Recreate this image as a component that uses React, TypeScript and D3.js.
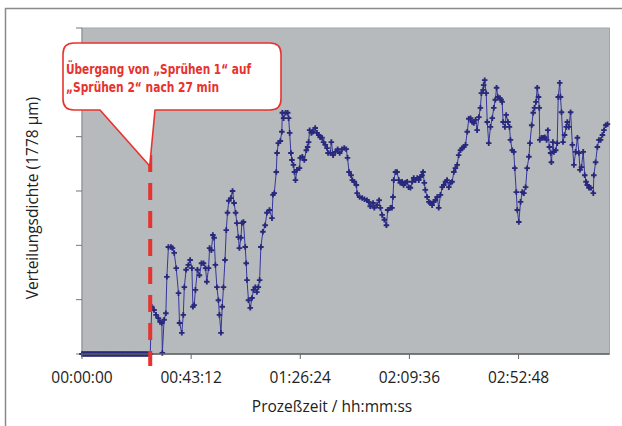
import React from "react";
import * as d3 from "d3";

// Process time in minutes; distribution density in axis units (one unit per gridline step)
const preSwitchMin = [
  0, 0.5, 1, 1.5, 2, 2.5, 3, 3.5, 4, 4.5, 5, 5.5, 6, 6.5, 7, 7.5, 8, 8.5, 9, 9.5,
  10, 10.5, 11, 11.5, 12, 12.5, 13, 13.5, 14, 14.5, 15, 15.5, 16, 16.5, 17, 17.5, 18, 18.5, 19, 19.5,
  20, 20.5, 21, 21.5, 22, 22.5, 23, 23.5, 24, 24.5, 25, 25.5, 26, 26.5, 27,
];

const sprayMin = [
  27.6, 28.5, 29.3, 30.2, 30.9, 31.6, 31.8, 32.5, 33.2, 33.6, 34.2, 35.2, 35.8, 36.5, 37.3, 38.2, 38.6, 39.5, 40.1, 40.5,
  41.2, 42.1, 42.8, 43.5, 43.9, 44.4, 44.9, 45.7, 46.5, 47.3, 48.1, 48.9, 49.4, 50.1, 50.5, 51.2, 51.8, 52.3, 52.8, 53.4,
  54.0, 54.4, 55.0, 55.5, 56.0, 56.6, 57.1, 57.6, 58.1, 58.9, 59.6, 60.2, 60.8, 61.3, 61.9, 62.3, 62.9, 63.3, 63.9, 64.6,
  65.0, 65.3, 65.9, 66.6, 67.3, 67.9, 68.6, 69.2, 69.8, 70.3, 70.8, 71.6, 72.5, 73.2, 74.2, 75.2, 75.6, 76.1, 76.9, 77.2,
  77.7, 78.5, 79.1, 79.3, 79.8, 80.6, 81.4, 81.8, 82.2, 82.7, 83.1, 83.7, 84.1, 84.5, 85.1, 86.1, 86.4, 87.2, 88.0, 88.8,
  89.3, 89.7, 90.1, 90.8, 91.4, 92.3, 93.0, 93.7, 94.3, 95.0, 95.6, 96.3, 97.0, 97.4, 98.3, 98.7, 99.4, 100.3, 101.2, 102.0,
  102.9, 103.8, 104.6, 105.1, 105.7, 106.5, 107.0, 107.8, 108.6, 108.9, 109.9, 110.9, 111.8, 112.8, 113.5, 114.1, 115.2, 115.7, 116.8, 117.6,
  118.1, 118.8, 119.7, 120.5, 121.0, 122.1, 122.7, 123.1, 123.4, 124.1, 124.7, 125.4, 126.0, 126.7, 127.3, 128.0, 128.7, 129.3, 130.0, 130.7,
  131.3, 132.0, 132.7, 133.3, 134.0, 134.6, 135.0, 135.5, 135.9, 136.6, 137.3, 137.9, 138.6, 139.2, 139.9, 140.6, 141.2, 141.9, 142.6, 143.2,
  143.9, 144.5, 145.2, 145.9, 146.5, 147.2, 147.8, 148.5, 149.1, 149.8, 150.5, 151.1, 151.8, 152.5, 153.1, 153.8, 154.5, 155.1, 155.8, 156.4,
  157.1, 157.7, 158.1, 158.8, 159.0, 159.4, 160.0, 160.4, 161.0, 161.7, 162.4, 163.0, 163.6, 164.1, 164.6, 165.4, 165.9, 166.3, 166.7, 167.4,
  167.9, 168.6, 169.2, 169.6, 170.3, 170.9, 171.3, 171.9, 172.3, 172.9, 173.6, 174.3, 174.9, 175.6, 176.2, 176.9, 177.3, 178.0, 178.6, 179.1,
  179.7, 180.2, 180.7, 181.0, 181.2, 181.9, 182.6, 183.2, 183.9, 184.4, 185.0, 185.5, 185.8, 186.4, 186.8, 187.5, 188.1, 188.5, 189.1, 189.4,
  189.8, 190.4, 191.0, 191.7, 192.1, 192.7, 193.4, 194.1, 194.7, 195.4, 196.1, 196.7, 197.1, 197.7, 198.4, 199.0, 199.5, 200.0, 200.7, 201.3,
  202.4, 202.6, 203.3, 204.0, 204.6, 205.3, 206.0, 206.6, 207.3, 208.0,
];

const sprayDensity = [
  0.87, 0.81, 0.72, 0.66, 0.59, 0.57, 0.02, 0.63, 0.75, 1.42, 1.97, 1.97, 1.95, 1.86, 1.58, 1.12, 0.57, 0.39, 0.72, 1.23,
  1.55, 1.64, 1.73, 1.58, 0.87, 0.90, 1.18, 1.55, 1.45, 1.67, 1.67, 1.58, 1.33, 1.58, 1.95, 1.91, 2.19, 2.14, 1.64, 1.23,
  0.99, 0.72, 0.39, 0.87, 1.23, 1.73, 2.28, 2.60, 2.82, 2.87, 3.00, 2.78, 2.60, 2.41, 2.15, 1.95, 2.14, 2.41, 2.43, 1.97,
  1.67, 1.36, 0.99, 0.85, 1.03, 1.18, 1.23, 1.14, 1.23, 1.36, 1.97, 2.25, 2.37, 2.60, 2.65, 2.50, 2.93, 2.96, 3.35, 3.70,
  3.88, 3.92, 4.09, 4.44, 4.34, 4.44, 4.44, 4.34, 4.07, 3.70, 3.57, 3.48, 3.35, 3.20, 3.39, 3.42, 3.61, 3.63, 3.57, 3.75,
  3.81, 3.90, 4.12, 4.07, 4.09, 4.16, 4.07, 4.03, 3.99, 3.98, 3.90, 3.85, 3.79, 3.70, 3.70, 3.90, 3.66, 3.72, 3.77, 3.70,
  3.77, 3.79, 3.77, 3.61, 3.35, 3.29, 3.20, 3.17, 3.11, 2.96, 2.89, 2.87, 2.85, 2.83, 2.80, 2.72, 2.78, 2.69, 2.74, 2.83,
  2.69, 2.56, 2.47, 2.37, 2.65, 2.69, 2.69, 2.89, 3.20, 3.35, 3.35, 3.20, 3.15, 3.17, 3.11, 3.15, 3.17, 3.07, 3.06, 3.17,
  3.24, 3.20, 3.24, 3.20, 3.26, 3.29, 3.35, 3.15, 3.02, 2.89, 2.80, 2.78, 2.74, 2.80, 2.83, 2.89, 2.69, 2.93, 3.07, 3.11,
  3.17, 3.20, 3.07, 3.15, 3.17, 3.35, 3.42, 3.48, 3.66, 3.75, 3.79, 3.81, 3.85, 4.09, 4.33, 4.34, 4.27, 4.25, 4.31, 4.12,
  4.36, 4.53, 4.80, 4.86, 4.95, 5.04, 4.80, 4.27, 3.88, 4.18, 4.34, 4.53, 4.68, 4.90, 4.73, 4.71, 4.68, 4.64, 4.27, 4.18,
  4.40, 4.27, 4.18, 3.94, 3.75, 3.72, 3.42, 2.98, 2.65, 2.43, 2.80, 2.98, 2.96, 3.07, 3.42, 3.63, 3.88, 4.21, 4.44, 4.53,
  4.64, 4.90, 4.73, 4.53, 3.94, 3.98, 3.98, 3.99, 3.94, 4.12, 3.81, 3.70, 3.53, 3.90, 3.72, 3.75, 3.88, 4.73, 4.99, 4.73,
  4.45, 3.90, 4.03, 4.18, 4.27, 4.18, 4.45, 3.85, 3.48, 3.72, 3.98, 3.70, 3.39, 3.44, 3.72, 3.29, 3.17, 3.11, 3.06, 3.06,
  2.96, 3.29, 3.53, 3.81, 3.94, 3.94, 4.03, 4.12, 4.21, 4.23,
];

const xTicksMin = [0, 43.2, 86.4, 129.6, 172.8];
const yTicks = [0, 1, 2, 3, 4, 5, 6];
const switchMin = 27;
const calloutLines = ["Übergang von \u201ESprühen 1\u201C auf", "\u201ESprühen 2\u201C nach 27 min"];
const calloutWidths = [185, 153];
const xTitle = "Prozeßzeit / hh:mm:ss";
const yTitle = "Verteilungsdichte (1778 µm)";

const W = 622;
const H = 426;
const plot = { left: 82, right: 609.5, top: 28, bottom: 354 };

const fmtTime = (m: number) => {
  const s = Math.round(m * 60);
  const hh = Math.floor(s / 3600);
  const mm = Math.floor((s % 3600) / 60);
  const ss = s % 60;
  const p = (n: number) => String(n).padStart(2, "0");
  return `${p(hh)}:${p(mm)}:${p(ss)}`;
};

export default function App() {
  const x = d3.scaleLinear().domain([0, 208.8]).range([plot.left, plot.right]);
  const y = d3.scaleLinear().domain([0, 6]).range([plot.bottom, plot.top]);

  const points: [number, number][] = [
    ...preSwitchMin.map((t) => [t, 0] as [number, number]),
    ...sprayMin.map((t, i) => [t, sprayDensity[i]] as [number, number]),
  ];

  const line = d3
    .line<[number, number]>()
    .x((d) => x(d[0]))
    .y((d) => y(d[1]));

  const marker = d3.symbol().type(d3.symbolCross).size(17)() as string;

  const sx = x(switchMin);
  // speech bubble with a pointer ending at the switch line
  const bx0 = 63, bx1 = 281, by0 = 43, by1 = 110, r = 11;
  const tipY = 166;
  const bubble = [
    `M${bx0 + r},${by0}`,
    `H${bx1 - r}`,
    `Q${bx1},${by0} ${bx1},${by0 + r}`,
    `V${by1 - r}`,
    `Q${bx1},${by1} ${bx1 - r},${by1}`,
    `H${155}`,
    `L${sx - 0.5},${tipY}`,
    `L${100},${by1}`,
    `H${bx0 + r}`,
    `Q${bx0},${by1} ${bx0},${by1 - r}`,
    `V${by0 + r}`,
    `Q${bx0},${by0} ${bx0 + r},${by0}`,
    "Z",
  ].join(" ");

  const font = "'Open Sans', 'Noto Sans', sans-serif";

  return (
    <svg
      width={W}
      height={H}
      viewBox={`0 0 ${W} ${H}`}
      style={{ position: "absolute", left: 0, top: 0, background: "#fff" }}
    >
      {/* outer frame (left and top edges) */}
      <path d={`M5.5,${H} V8.5 H${W}`} fill="none" stroke="#8a8a8a" strokeWidth={1.5} />

      {/* plot area */}
      <rect
        x={plot.left}
        y={plot.top}
        width={plot.right - plot.left}
        height={plot.bottom - plot.top}
        fill="#b7babd"
        stroke="#a3a6a9"
        strokeWidth={1}
      />

      {/* y axis */}
      <line x1={plot.left} x2={plot.left} y1={plot.top} y2={plot.bottom} stroke="#8f9295" strokeWidth={1} />
      {yTicks.map((v) => (
        <line key={v} x1={plot.left - 6} x2={plot.left} y1={y(v)} y2={y(v)} stroke="#777" strokeWidth={1} />
      ))}

      {/* series */}
      <path d={line(points) ?? ""} fill="none" stroke="#35359a" strokeWidth={1} />
      {points.map((d, i) => (
        <path key={i} d={marker} transform={`translate(${x(d[0])},${y(d[1])})`} fill="#28287c" />
      ))}

      {/* x axis */}
      <line x1={plot.left - 1} x2={plot.right} y1={plot.bottom} y2={plot.bottom} stroke="#5c5f62" strokeWidth={1.5} />
      {xTicksMin.map((t) => (
        <g key={t}>
          <line x1={x(t)} x2={x(t)} y1={plot.bottom} y2={plot.bottom + 5} stroke="#666" strokeWidth={1} />
          <text x={x(t)} y={383} textAnchor="middle" fontFamily={font} fontSize={15.5} fill="#222">
            {fmtTime(t)}
          </text>
        </g>
      ))}

      {/* switch marker */}
      <line
        x1={sx}
        x2={sx}
        y1={155}
        y2={366}
        stroke="#e8322e"
        strokeWidth={4}
        strokeDasharray="17 11"
      />

      {/* callout */}
      <path d={bubble} fill="#fff" stroke="#e8322e" strokeWidth={1.6} strokeLinejoin="round" />
      {calloutLines.map((s, i) => (
        <text
          key={i}
          x={66}
          y={74 + i * 18}
          fontFamily="'Liberation Sans Narrow', 'DejaVu Sans Condensed', sans-serif"
          fontWeight={700}
          fontSize={14}
          textLength={calloutWidths[i]}
          lengthAdjust="spacingAndGlyphs"
          fill="#e8322e"
        >
          {s}
        </text>
      ))}

      {/* axis titles */}
      <text x={332} y={412} textAnchor="middle" fontFamily={font} fontSize={15.5} fill="#222">
        {xTitle}
      </text>
      <text
        transform="translate(38,198) rotate(-90)"
        textAnchor="middle"
        fontFamily={font}
        fontSize={15.5}
        fill="#222"
      >
        {yTitle}
      </text>
    </svg>
  );
}
